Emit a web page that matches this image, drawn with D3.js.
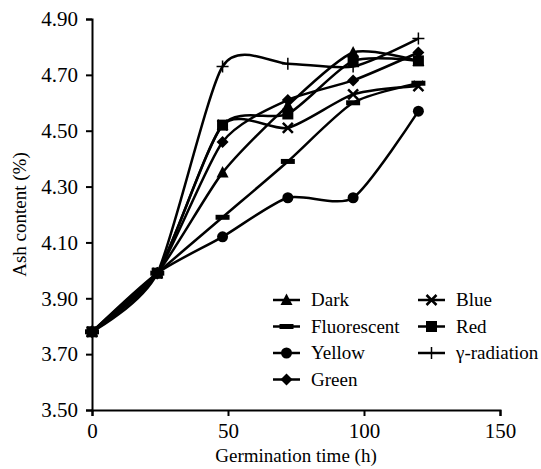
<!DOCTYPE html>
<html lang="en">
    <head>
        <meta charset="utf-8">
        <title>Ash content vs germination time</title>
        <script type="text/javascript" src="https://cdn.jsdelivr.net/npm/d3@7"></script>
        <style type="text/css">
            body { margin: 0; background: #fff; }
            svg text { font-family: "Liberation Serif", "Times New Roman", Times, "DejaVu Serif", serif; fill: #000; }
        </style>
    </head>
    <body>
        <script type="text/javascript">

            //Width and height
            var w = 541;
            var h = 469;

            // germination hours
            var hours = [0, 24, 48, 72, 96, 120];

            // ash content (%) per treatment
            var dark        = [3.78, 3.99, 4.35, 4.59, 4.78, 4.75];
            var fluorescent = [3.78, 3.99, 4.19, 4.39, 4.60, 4.67];
            var yellow      = [3.78, 3.99, 4.12, 4.26, 4.26, 4.57];
            var green       = [3.78, 3.99, 4.46, 4.61, 4.68, 4.78];
            var blue        = [3.78, 3.99, 4.52, 4.51, 4.63, 4.66];
            var red         = [3.78, 3.99, 4.52, 4.56, 4.75, 4.75];
            var gamma       = [3.78, 3.99, 4.73, 4.74, 4.73, 4.83];

            var yTicks = [3.50, 3.70, 3.90, 4.10, 4.30, 4.50, 4.70, 4.90];
            var xTicks = [0, 50, 100, 150];

            var series = [
                {name: "Dark", values: dark, marker: "triangle"},
                {name: "Fluorescent", values: fluorescent, marker: "dash"},
                {name: "Yellow", values: yellow, marker: "circle"},
                {name: "Green", values: green, marker: "diamond"},
                {name: "Blue", values: blue, marker: "x"},
                {name: "Red", values: red, marker: "square"},
                {name: "\u03b3-radiation", values: gamma, marker: "plus"}
            ];

            var x = d3.scaleLinear().domain([0, 150]).range([92, 500]);
            var y = d3.scaleLinear().domain([3.5, 4.9]).range([410, 19]);

            var svg = d3.select("body")
                        .append("svg")
                        .attr("width", w)
                        .attr("height", h);

            // axes
            var xAxis = d3.axisBottom(x).tickValues(xTicks).tickSize(6).tickFormat(d3.format("d"));
            var yAxis = d3.axisLeft(y).tickValues(yTicks).tickSize(6).tickFormat(d3.format(".2f"));

            var gx = svg.append("g").attr("transform", "translate(0," + y(3.5) + ")").call(xAxis);
            var gy = svg.append("g").attr("transform", "translate(" + x(0) + ",0)").call(yAxis);

            [gx, gy].forEach(function(g) {
                g.attr("font-family", null);
                g.select(".domain").attr("stroke", "#000").attr("stroke-width", 2);
                g.selectAll(".tick line").attr("stroke", "#000").attr("stroke-width", 2);
                g.selectAll(".tick text")
                 .attr("font-size", "21px")
                 .attr("fill", "#000");
            });
            gx.selectAll(".tick text").attr("dy", "0.9em");
            gy.selectAll(".tick text").attr("x", -14);

            svg.append("text")
                .text("Germination time (h)")
                .attr("x", x(75))
                .attr("y", 462)
                .attr("text-anchor", "middle")
                .attr("font-size", "19px");

            svg.append("text")
                .text("Ash content (%)")
                .attr("transform", "translate(26," + y(4.2) + ") rotate(-90)")
                .attr("text-anchor", "middle")
                .attr("font-size", "19px");

            // smoothed lines
            var line = d3.line()
                .x(function(d, i) { return x(hours[i]); })
                .y(function(d) { return y(d); })
                .curve(d3.curveCardinal.tension(0.3));

            svg.append("g").selectAll("path")
                .data(series)
                .enter()
                .append("path")
                .attr("d", function(d) { return line(d.values); })
                .attr("fill", "none")
                .attr("stroke", "#000")
                .attr("stroke-width", 2.5);

            function drawMarker(g, type) {
                if (type == "triangle") {
                    g.append("path").attr("d", "M0,-6.5L6,5L-6,5Z").attr("fill", "#000");
                } else if (type == "dash") {
                    g.append("rect").attr("x", -7).attr("y", -2.5).attr("width", 14).attr("height", 5).attr("fill", "#000");
                } else if (type == "circle") {
                    g.append("circle").attr("r", 5.5).attr("fill", "#000");
                } else if (type == "diamond") {
                    g.append("path").attr("d", "M0,-6L6,0L0,6L-6,0Z").attr("fill", "#000");
                } else if (type == "square") {
                    g.append("rect").attr("x", -5.5).attr("y", -5.5).attr("width", 11).attr("height", 11).attr("fill", "#000");
                } else if (type == "x") {
                    g.append("path").attr("d", "M-5,-5L5,5M-5,5L5,-5").attr("stroke", "#000").attr("stroke-width", 2.5);
                } else if (type == "plus") {
                    g.append("path").attr("d", "M-6,0L6,0M0,-6L0,6").attr("stroke", "#000").attr("stroke-width", 1.5);
                }
            }

            // markers
            series.forEach(function(s) {
                s.values.forEach(function(v, i) {
                    var g = svg.append("g")
                        .attr("transform", "translate(" + x(hours[i]) + "," + y(v) + ")");
                    drawMarker(g, s.marker);
                });
            });

            // legend
            var legend = svg.append("g");
            series.forEach(function(s, i) {
                var col = i < 4 ? 0 : 1;
                var row = i < 4 ? i : i - 4;
                var lx = col == 0 ? 273 : 418;
                var ly = 300 + row * 26.5;
                var item = legend.append("g").attr("transform", "translate(" + lx + "," + ly + ")");
                item.append("line")
                    .attr("x1", 0).attr("x2", 27)
                    .attr("y1", 0).attr("y2", 0)
                    .attr("stroke", "#000")
                    .attr("stroke-width", 2.5);
                drawMarker(item.append("g").attr("transform", "translate(13.5,0)"), s.marker);
                item.append("text")
                    .text(s.name)
                    .attr("x", 38)
                    .attr("y", 0)
                    .attr("dy", "0.33em")
                    .attr("font-size", "19px");
            });

        </script>
    </body>
</html>
